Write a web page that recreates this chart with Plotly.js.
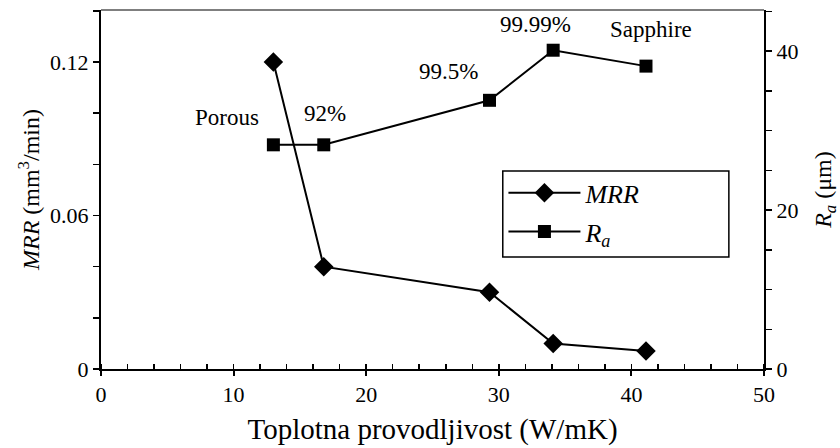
<!DOCTYPE html>
<html><head><meta charset="utf-8">
<script src="https://cdn.plot.ly/plotly-3.0.1.min.js"></script>
<style>body{margin:0;background:#fff}#c{width:840px;height:448px}</style>
</head><body><div id="c"></div>
<script>
const conductivity = [13, 16.8, 29.3, 34.1, 41.1];
const mrr = [0.12, 0.040, 0.030, 0.010, 0.007];
const ra = [28.2, 28.2, 33.8, 40.1, 38.1];
const materials = ['Porous', '92%', '99.5%', '99.99%', 'Sapphire'];
const labelX = [9.5, 16.9, 26.2, 32.8, 41.5];
const labelY = [31.7, 32.1, 37.4, 43.3, 42.7];

const font = '"Liberation Serif", "Times New Roman", Times, serif';
const traces = [
  {x: conductivity, y: mrr, name: '<i>MRR</i>', legendgroup: 'a', mode: 'lines+markers', type: 'scatter',
   line: {color: '#000', width: 2}, marker: {symbol: 'diamond', size: 15, color: '#000'}},
  {x: conductivity, y: ra, name: '<i>R<sub>a</sub></i>', legendgroup: 'b', mode: 'lines+markers', type: 'scatter', yaxis: 'y2',
   line: {color: '#000', width: 2}, marker: {symbol: 'square', size: 13, color: '#000'}}
];
const annotations = materials.map((m, i) => ({
  x: labelX[i], y: labelY[i], xref: 'x', yref: 'y2', text: m, showarrow: false,
  font: {family: font, size: 23, color: '#000'}
}));
const layout = {
  width: 840, height: 448,
  margin: {l: 101, r: 76, t: 10, b: 79},
  paper_bgcolor: '#fff', plot_bgcolor: '#fff',
  font: {family: font, color: '#000', size: 22},
  showlegend: true,
  legend: {x: 0.607, y: 0.556, xanchor: 'left', yanchor: 'top', borderwidth: 0,
           font: {family: font, size: 26, color: '#000'}, bgcolor: 'rgba(0,0,0,0)', itemwidth: 72,
           tracegroupgap: 2},
  xaxis: {range: [0, 50], dtick: 10, showgrid: false, zeroline: false, showline: true, linecolor: '#000', linewidth: 2,
          ticks: 'outside', ticklen: 5, tickwidth: 2, tickcolor: '#000',
          minor: {dtick: 2, ticks: 'inside', ticklen: 5, tickwidth: 1.5, tickcolor: '#000', showgrid: false},
          title: {text: 'Toplotna provodljivost (W/mK)', font: {family: font, size: 29}, standoff: 12},
          tickfont: {family: font, size: 22}},
  yaxis: {range: [0, 0.1403], dtick: 0.06, showgrid: false, zeroline: false, showline: true, linecolor: '#000', linewidth: 2,
          ticks: 'outside', ticklen: 6, tickwidth: 1.5, tickcolor: '#000',
          minor: {dtick: 0.02, ticks: 'outside', ticklen: 6, tickwidth: 1.5, tickcolor: '#000', showgrid: false},
          title: {text: '<i>MRR</i> (mm<sup>3</sup>/min)', font: {family: font, size: 24}, standoff: 4},
          tickfont: {family: font, size: 22}},
  yaxis2: {range: [0, 45.16], dtick: 20, overlaying: 'y', side: 'right', showgrid: false, zeroline: false,
           showline: true, linecolor: '#000', linewidth: 2,
           ticks: 'outside', ticklen: 6, tickwidth: 1.5, tickcolor: '#000',
           minor: {dtick: 5, ticks: 'outside', ticklen: 6, tickwidth: 1.5, tickcolor: '#000', showgrid: false},
           title: {text: '<i>R<sub>a</sub></i> (μm)', font: {family: font, size: 24}, standoff: 18},
           tickfont: {family: font, size: 22}},
  shapes: [
    {type: 'line', xref: 'paper', yref: 'paper', x0: 0, x1: 1, y0: 1, y1: 1, line: {color: '#555', width: 1.5}},
    {type: 'rect', xref: 'paper', yref: 'paper', x0: 0.606, x1: 0.947, y0: 0.312, y1: 0.5515,
     line: {color: '#000', width: 1.5}, layer: 'below'}
  ],
  annotations: annotations
};
Plotly.newPlot('c', traces, layout, {displayModeBar: false, staticPlot: true});
</script></body></html>
